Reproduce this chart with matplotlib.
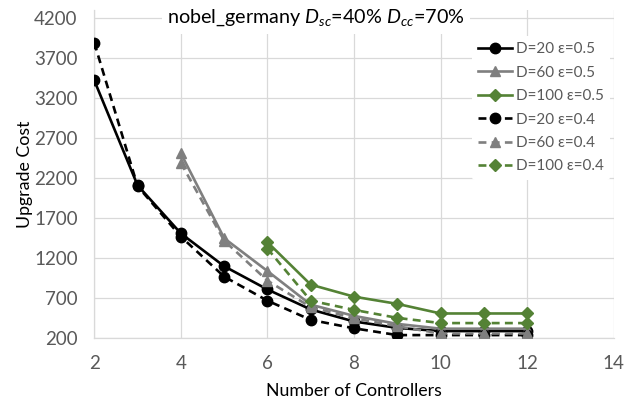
import matplotlib
matplotlib.use("Agg")
import matplotlib.pyplot as plt

plt.rcParams['font.family'] = ['Lato', 'DejaVu Sans']
plt.rcParams['mathtext.fontset'] = 'custom'
plt.rcParams['mathtext.rm'] = 'Lato'
plt.rcParams['mathtext.it'] = 'Lato:italic'

# Upgrade cost versus number of controllers
x_d20 = [2, 3, 4, 5, 6, 7, 8, 9, 10, 11, 12]
x_d60 = [4, 5, 6, 7, 8, 9, 10, 11, 12]
x_d100 = [6, 7, 8, 9, 10, 11, 12]

d20_e05 = [3420, 2110, 1510, 1100, 810, 560, 410, 330, 290, 290, 290]
d60_e05 = [2510, 1450, 1040, 620, 480, 380, 320, 320, 320]
d100_e05 = [1400, 870, 720, 630, 510, 510, 510]
d20_e04 = [3890, 2100, 1470, 970, 670, 430, 325, 240, 240, 240, 240]
d60_e04 = [2390, 1420, 920, 590, 450, 350, 260, 260, 260]
d100_e04 = [1320, 670, 555, 455, 390, 390, 390]

labels = ["D=20 \u03b5=0.5", "D=60 \u03b5=0.5", "D=100 \u03b5=0.5",
          "D=20 \u03b5=0.4", "D=60 \u03b5=0.4", "D=100 \u03b5=0.4"]

x_ticks = [2, 4, 6, 8, 10, 12, 14]
y_ticks = [200, 700, 1200, 1700, 2200, 2700, 3200, 3700, 4200]

BLACK = '#000000'
GRAY = '#7F7F7F'
GREEN = '#548235'

fig = plt.figure(figsize=(6.39, 4.08), dpi=100)
ax = fig.add_axes([94.3 / 639, 1 - 338.3 / 408, (613.7 - 94.3) / 639, (338.3 - 10) / 408])

series = [
    (x_d20, d20_e05, BLACK, 'o', '-', 7.5),
    (x_d60, d60_e05, GRAY, '^', '-', 7.5),
    (x_d100, d100_e05, GREEN, 'D', '-', 6.0),
    (x_d20, d20_e04, BLACK, 'o', '--', 7.5),
    (x_d60, d60_e04, GRAY, '^', '--', 7.5),
    (x_d100, d100_e04, GREEN, 'D', '--', 6.0),
]

handles = []
for (xs, ys, col, mk, ls, ms), lab in zip(series, labels):
    kw = dict(color=col, marker=mk, markersize=ms, linewidth=1.9,
              markerfacecolor=col, markeredgecolor=col, zorder=3, label=lab)
    if ls == '--':
        ln, = ax.plot(xs, ys, linestyle='--', dashes=(3.0, 2.0), **kw)
    else:
        ln, = ax.plot(xs, ys, linestyle='-', **kw)
    handles.append(ln)

ax.set_xlim(2, 14)
ax.set_ylim(200, 4300)
ax.set_xticks(x_ticks)
ax.set_yticks(y_ticks)
ax.grid(True, color='#D9D9D9', linewidth=0.9, zorder=0)
ax.set_axisbelow(True)
for side in ['top', 'right']:
    ax.spines[side].set_visible(False)
for side in ['left', 'bottom']:
    ax.spines[side].set_color('#D9D9D9')
    ax.spines[side].set_linewidth(0.9)
ax.tick_params(length=0, labelsize=13.5, labelcolor='#595959')
ax.tick_params(axis='y', pad=12)
ax.tick_params(axis='x', pad=12)

ax.set_xlabel("Number of Controllers", fontsize=12.8, color='#000000', labelpad=8)
ax.set_ylabel("Upgrade Cost", fontsize=12.8, color='#000000', labelpad=1)

fig.text(316 / 639, 1 - 18 / 408, r"nobel_germany $D_{sc}$=40% $D_{cc}$=70%",
         ha='center', va='center', fontsize=14.2, color='#000000',
         bbox=dict(facecolor='white', edgecolor='none', pad=4), zorder=5)

leg = fig.legend(handles=handles, loc='upper left',
                 bbox_to_anchor=(472 / 639, 1 - 36 / 408),
                 fontsize=11, frameon=True, framealpha=1, edgecolor='none',
                 facecolor='white', handlelength=2.2, handletextpad=0.3,
                 labelspacing=0.62, borderpad=0.4, borderaxespad=0)
for t in leg.get_texts():
    t.set_color('#595959')

fig.savefig("out.png", dpi=100)
